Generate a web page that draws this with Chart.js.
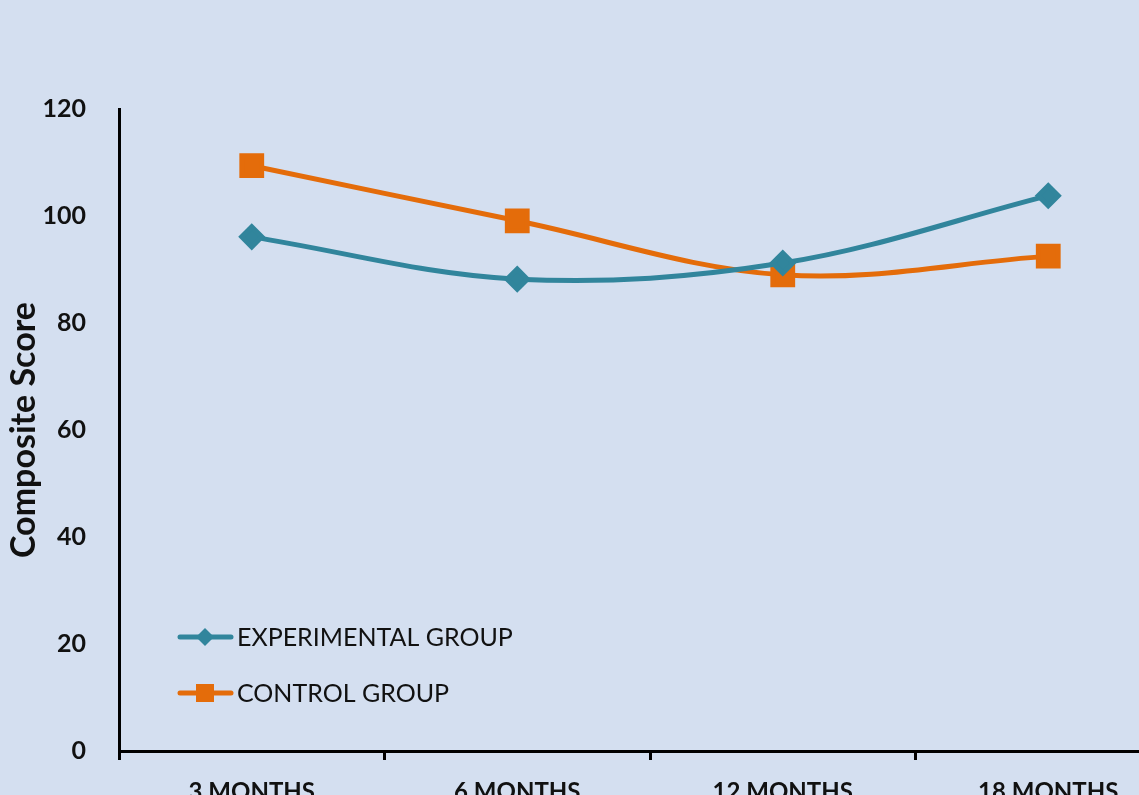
<!DOCTYPE html>
<html>
<head>
<meta charset="utf-8">
<script src="https://cdn.jsdelivr.net/npm/chart.js@4.4.1/dist/chart.umd.min.js"></script>
<style>
  html, body { margin: 0; padding: 0; background: #D4DFF0; overflow: hidden; }
  #wrap { width: 1139px; height: 795px; overflow: hidden; position: relative; }
  canvas { position: absolute; left: 0; top: 0; }
</style>
</head>
<body>
<div id="wrap"><canvas id="myChart" width="1200" height="830"></canvas></div>
<script>
// data
const periods = ['3 MONTHS', '6 MONTHS', '12 MONTHS', '18 MONTHS'];
const experimental = [96.1, 88.2, 91.2, 103.8];
const control = [109.4, 99.1, 89.0, 92.5];
const yTicks = [0, 20, 40, 60, 80, 100, 120];

const tealColor = '#31859C';
const orangeColor = '#E46C0A';
const fontFam = 'Lato, "Open Sans", sans-serif';

// legend drawn inside the plot, lower left
const insideLegend = {
    id: 'insideLegend',
    afterDraw(chart) {
        let ctx = chart.ctx;
        let items = [
            { label: 'EXPERIMENTAL GROUP', color: tealColor, shape: 'diamond', y: 637 },
            { label: 'CONTROL GROUP', color: orangeColor, shape: 'square', y: 693 }
        ];
        ctx.save();
        items.forEach(function(it) {
            ctx.strokeStyle = it.color;
            ctx.fillStyle = it.color;
            ctx.lineWidth = 5;
            ctx.lineCap = 'round';
            ctx.beginPath();
            ctx.moveTo(180, it.y);
            ctx.lineTo(231, it.y);
            ctx.stroke();
            ctx.beginPath();
            if (it.shape === 'diamond') {
                ctx.moveTo(205, it.y - 9);
                ctx.lineTo(214, it.y);
                ctx.lineTo(205, it.y + 9);
                ctx.lineTo(196, it.y);
                ctx.closePath();
            } else {
                ctx.rect(196, it.y - 9, 18, 18);
            }
            ctx.fill();
            ctx.fillStyle = '#111';
            ctx.font = '25px ' + fontFam;
            ctx.textBaseline = 'middle';
            ctx.textAlign = 'left';
            ctx.fillText(it.label, 237, it.y + 1);
        });
        ctx.restore();
    }
};

let ctx = document.getElementById('myChart').getContext('2d');
let chart = new Chart(ctx, {
    type: 'line',
    data: {
        labels: periods,
        datasets: [{
            label: 'EXPERIMENTAL GROUP',
            data: experimental,
            borderColor: tealColor,
            backgroundColor: tealColor,
            borderWidth: 5,
            pointStyle: 'rectRot',
            pointRadius: 10,
            pointHoverRadius: 10,
            tension: 0.35
        }, {
            label: 'CONTROL GROUP',
            data: control,
            borderColor: orangeColor,
            backgroundColor: orangeColor,
            borderWidth: 5,
            pointStyle: 'rect',
            pointRadius: 14,
            pointHoverRadius: 14,
            tension: 0.35
        }]
    },
    options: {
        responsive: false,
        animation: false,
        layout: { padding: { left: 0, right: 17, top: 109, bottom: 0 } },
        plugins: {
            legend: { display: false },
            tooltip: { enabled: false }
        },
        scales: {
            x: {
                offset: true,
                grid: {
                    offset: true,
                    drawOnChartArea: false,
                    drawTicks: true,
                    tickLength: 9,
                    tickWidth: 3,
                    tickColor: '#000'
                },
                border: { color: '#000', width: 3 },
                ticks: {
                    color: '#111',
                    padding: 18,
                    font: { family: fontFam, size: 24, weight: 'bold' }
                },
                afterFit: function(scale) { scale.height = 830 - 751; }
            },
            y: {
                min: 0,
                max: 120,
                afterBuildTicks: function(scale) {
                    scale.ticks = yTicks.map(function(v) { return { value: v }; });
                },
                grid: { display: false },
                border: { color: '#000', width: 3 },
                ticks: {
                    color: '#111',
                    padding: 25,
                    font: { family: fontFam, size: 25, weight: 'bold' }
                },
                title: {
                    display: true,
                    text: 'Composite Score',
                    color: '#111',
                    padding: { top: 4, bottom: 0 },
                    font: { family: fontFam, size: 34, weight: 'bold' }
                },
                afterFit: function(scale) { scale.width = 119; }
            }
        }
    },
    plugins: [insideLegend]
});
</script>
</body>
</html>
